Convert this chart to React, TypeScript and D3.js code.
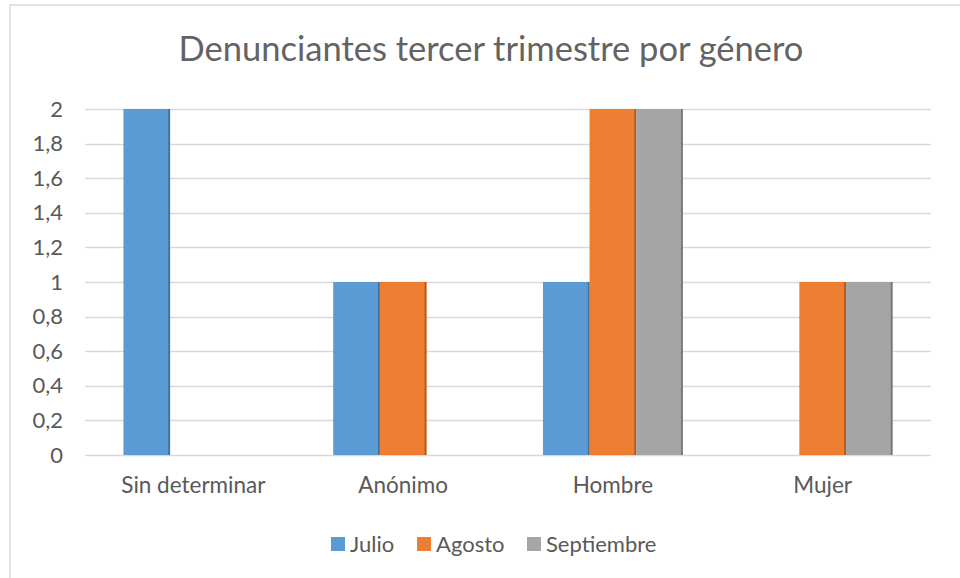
import React from "react";
import * as d3 from "d3";

const categories = ["Sin determinar", "Anónimo", "Hombre", "Mujer"];
const seriesNames = ["Julio", "Agosto", "Septiembre"];
const julio = [2, 1, 1, 0];
const agosto = [0, 1, 2, 1];
const septiembre = [0, 0, 2, 1];
const yTicks = [0, 0.2, 0.4, 0.6, 0.8, 1, 1.2, 1.4, 1.6, 1.8, 2];
const title = "Denunciantes tercer trimestre por género";

const seriesValues = [julio, agosto, septiembre];
const colors = ["#5B9BD5", "#ED7D31", "#A5A5A5"];
const edgeColors = ["#41719C", "#AE5A21", "#787878"];

const W = 960;
const H = 578;
const FONT = "Lato, 'Open Sans', sans-serif";
const TEXT = "#595959";

export default function App() {
  const plotL = 85;
  const plotR = 931;
  const plotT = 109;
  const plotB = 455;

  const x = d3.scaleBand<string>().domain(categories).range([88.5, 927.5]).paddingInner(1 / 3).paddingOuter(1 / 6);
  const xs = d3.scaleBand<string>().domain(seriesNames).range([0, x.bandwidth()]).padding(0);
  const y = d3.scaleLinear().domain([0, 2]).range([plotB, plotT]);
  const fmt = (v: number) => d3.format(".1~f")(v).replace(".", ",");

  const legendItems = [
    { name: "Julio", sx: 331 },
    { name: "Agosto", sx: 417 },
    { name: "Septiembre", sx: 527 },
  ];

  return (
    <svg width={W} height={H} style={{ position: "absolute", left: 0, top: 0 }} fontFamily={FONT}>
      <rect x={0} y={0} width={W} height={H} fill="#fff" />
      <rect x={10} y={5} width={W + 20} height={H + 20} fill="#fff" stroke="#D9D9D9" strokeWidth={1.5} />
      <text x={491} y={61} textAnchor="middle" fontSize={34.5} fill="#636363">{title}</text>
      {yTicks.map((t) => (
        <g key={t}>
          <line x1={plotL} x2={plotR} y1={Math.round(y(t)) + 0.5} y2={Math.round(y(t)) + 0.5} stroke="#D9D9D9" strokeWidth={1.5} />
          <text x={63} y={y(t) + 7.5} textAnchor="end" fontSize={22} fill={TEXT}>{fmt(t)}</text>
        </g>
      ))}
      {categories.map((c, ci) => (
        <g key={c}>
          {seriesNames.map((s, si) => {
            const v = seriesValues[si][ci];
            if (!v) return null;
            const bx = (x(c) as number) + (xs(s) as number);
            const bw = xs.bandwidth();
            return (
              <g key={s}>
                <rect x={bx} y={y(v)} width={bw} height={y(0) - y(v)} fill={colors[si]} />
                <rect x={bx + bw - 1.8} y={y(v)} width={1.8} height={y(0) - y(v)} fill={edgeColors[si]} />
              </g>
            );
          })}
          <text x={(x(c) as number) + x.bandwidth() / 2} y={493} textAnchor="middle" fontSize={22.5} fill={TEXT}>{c}</text>
        </g>
      ))}
      {legendItems.map((l, i) => (
        <g key={l.name}>
          <rect x={l.sx} y={537} width={14} height={14} fill={colors[i]} />
          <text x={l.sx + 19} y={552} fontSize={22} fill={TEXT}>{l.name}</text>
        </g>
      ))}
    </svg>
  );
}
